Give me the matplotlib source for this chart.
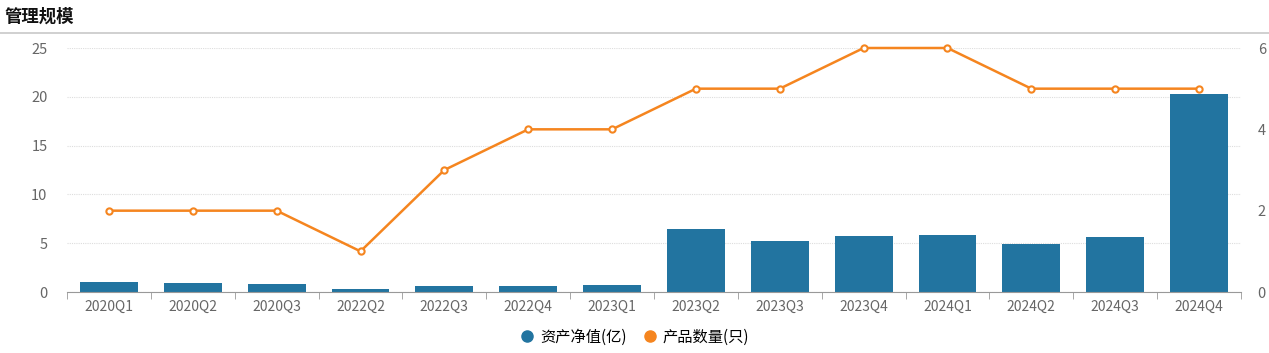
import numpy as np
import matplotlib
matplotlib.use('Agg')
import matplotlib.pyplot as plt
from matplotlib.lines import Line2D

plt.rcParams['font.family'] = ['Noto Sans CJK SC', 'DejaVu Sans']

quarters = ['2020Q1', '2020Q2', '2020Q3', '2022Q2', '2022Q3', '2022Q4', '2023Q1',
            '2023Q2', '2023Q3', '2023Q4', '2024Q1', '2024Q2', '2024Q3', '2024Q4']
net_assets = [1.0, 0.95, 0.85, 0.3, 0.6, 0.6, 0.75, 6.45, 5.2, 5.7, 5.8, 4.9, 5.6, 20.3]
products = [2, 2, 2, 1, 3, 4, 4, 5, 5, 6, 6, 5, 5, 5]

bar_color = '#2274a0'
line_color = '#f5851f'
text_color = '#666666'

fig = plt.figure(figsize=(12.69, 3.53), dpi=100)
ax = fig.add_axes([67 / 1269, 61 / 353, 1174 / 1269, 244 / 353])
ax2 = ax.twinx()

x = np.arange(len(quarters))
ax.bar(x, net_assets, width=0.69, color=bar_color, zorder=2)
ax.set_xlim(-0.5, len(quarters) - 0.5)
ax.set_ylim(0, 25)
ax.set_yticks([0, 5, 10, 15, 20, 25])
ax.yaxis.grid(True, color='#dddddd', linestyle=(0, (1, 1)), linewidth=0.8)
ax.set_axisbelow(True)

ax2.plot(x, products, color=line_color, linewidth=1.8, marker='o', markersize=4.5,
         markerfacecolor='white', markeredgecolor=line_color, markeredgewidth=1.5,
         zorder=3, clip_on=False)
ax2.set_ylim(0, 6)
ax2.set_yticks([0, 2, 4, 6])

ax.set_xticks(x)
ax.set_xticklabels(quarters)
ax.set_xticks(np.arange(len(quarters) + 1) - 0.5, minor=True)
ax.tick_params(axis='x', which='major', length=0, pad=6, labelsize=10, labelcolor=text_color)
ax.tick_params(axis='x', which='minor', length=5, color='#999999', direction='out')
ax.tick_params(axis='y', length=0, pad=14, labelsize=10.5, labelcolor=text_color)
ax2.tick_params(axis='y', length=0, pad=12, labelsize=10.5, labelcolor=text_color)

for a in (ax, ax2):
    for s in ('top', 'left', 'right'):
        a.spines[s].set_visible(False)
ax.spines['bottom'].set_color('#999999')
ax2.spines['bottom'].set_visible(False)

fig.text(5 / 1269, 1 - 17 / 353, '管理规模', fontsize=12.5, fontweight='bold',
         color='#111111', va='center', ha='left')
fig.add_artist(Line2D([0, 1], [1 - 33 / 353, 1 - 33 / 353], color='#c8c8c8', linewidth=1.2))

handles = [Line2D([], [], linestyle='none', marker='o', markersize=8, color=bar_color),
           Line2D([], [], linestyle='none', marker='o', markersize=8, color=line_color)]
fig.legend(handles, ['资产净值(亿)', '产品数量(只)'], loc='center', ncol=2,
           bbox_to_anchor=(0.5, 1 - 337 / 353), frameon=False, fontsize=11,
           handletextpad=0.35, columnspacing=1.0, handlelength=1.0)

fig.savefig('out.png', dpi=100)
